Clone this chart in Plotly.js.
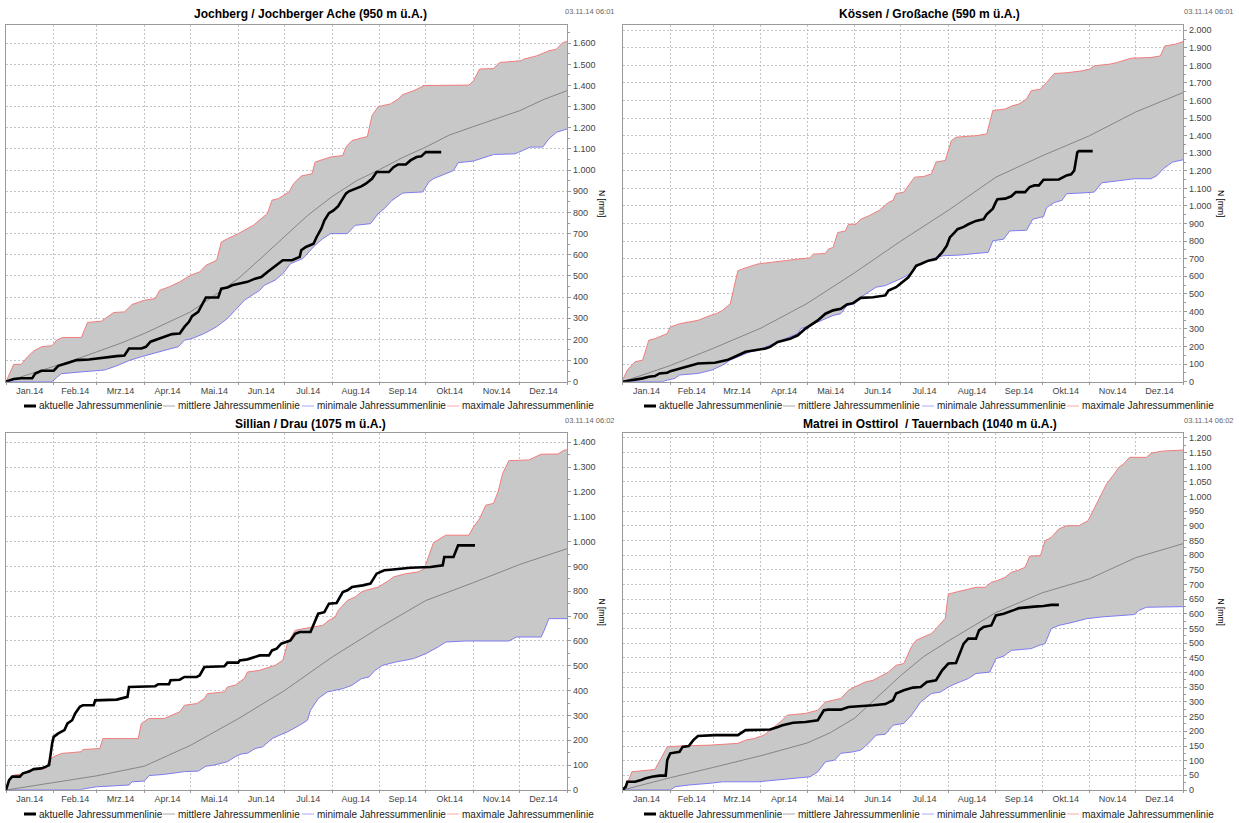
<!DOCTYPE html>
<html>
<head>
<meta charset="utf-8">
<script src="https://cdn.plot.ly/plotly-3.0.1.min.js"></script>
<style>html,body{margin:0;padding:0;background:#fff;}#chart{width:1239px;height:823px;}</style>
</head>
<body>
<div id="chart"></div>
<script>
// ---------------- DATA ----------------
// Points are [day of year 2014 (0 = 1 Jan), cumulative precipitation mm]
const titles = ["Jochberg / Jochberger Ache (950 m ü.A.)", "Kössen / Großache (590 m ü.A.)",
                "Sillian / Drau (1075 m ü.A.)", "Matrei in Osttirol  / Tauernbach (1040 m ü.A.)"];
const stamps = ["03.11.14 06:01", "03.11.14 06:01", "03.11.14 06:02", "03.11.14 06:02"];
const monthLabels = ["Jan.14","Feb.14","Mrz.14","Apr.14","Mai.14","Jun.14","Jul.14","Aug.14","Sep.14","Okt.14","Nov.14","Dez.14"];
const monthStartDays = [0,31,59,90,120,151,181,212,243,273,304,334,365];
const legendNames = ["aktuelle Jahressummenlinie","mittlere Jahressummenlinie","minimale Jahressummenlinie","maximale Jahressummenlinie"];
const yAxisLabel = "N [mm]";
const yTickSteps = [100, 100, 100, 50];

const jochbergCurrent = [[0,0],[3,8],[5,13],[10,16],[17,16],[19,39],[23,52],[31,52],[34,75],[39,86],[43,97],[46,102],[54,105],[64,115],[72,121],[77,124],[80,157],[88,157],[91,165],[94,189],[98,200],[103,215],[108,225],[113,228],[116,259],[119,283],[121,310],[125,330],[128,369],[130,398],[138,398],[140,440],[144,445],[147,456],[152,464],[157,472],[162,487],[166,495],[170,519],[174,542],[177,561],[180,574],[186,574],[191,590],[192,621],[195,637],[200,652],[202,684],[205,723],[207,762],[210,797],[213,810],[216,830],[218,855],[221,889],[223,900],[227,912],[231,923],[234,936],[238,959],[241,991],[249,991],[252,1014],[255,1027],[260,1027],[263,1046],[267,1062],[270,1065],[273,1085],[283,1085]];
const jochbergMean = [[0,0],[15,35],[31,71],[45,105],[59,141],[75,183],[90,228],[105,278],[120,330],[135,405],[151,487],[166,585],[181,685],[196,785],[212,875],[228,950],[243,1003],[258,1060],[273,1109],[288,1165],[304,1206],[319,1245],[334,1281],[350,1335],[365,1376]];
const jochbergMin = [[0,0],[30,0],[33,20],[36,38],[50,47],[64,55],[72,75],[80,100],[88,118],[97,134],[104,150],[112,165],[116,196],[121,204],[129,228],[137,260],[144,299],[149,338],[155,385],[160,409],[165,432],[168,456],[175,480],[180,511],[185,558],[193,582],[196,605],[201,645],[206,676],[211,700],[222,700],[227,739],[237,747],[242,794],[246,818],[251,857],[258,892],[271,897],[275,944],[278,960],[286,983],[291,998],[294,1035],[304,1043],[317,1074],[331,1077],[341,1109],[349,1109],[353,1148],[358,1179],[365,1195]];
const jochbergMax = [[0,0],[5,82],[10,82],[14,118],[18,145],[23,165],[30,170],[33,197],[37,209],[49,209],[53,280],[62,286],[70,327],[77,330],[82,365],[90,385],[97,393],[100,432],[106,448],[113,472],[120,503],[126,519],[130,550],[137,574],[140,660],[144,676],[151,700],[161,740],[170,795],[173,858],[177,865],[184,897],[187,936],[192,972],[199,983],[201,1038],[211,1062],[219,1069],[221,1109],[225,1140],[235,1159],[238,1258],[242,1300],[250,1313],[255,1336],[258,1357],[265,1375],[272,1400],[301,1402],[304,1422],[308,1478],[317,1480],[321,1509],[335,1517],[337,1525],[345,1540],[353,1564],[358,1572],[362,1603],[365,1608]];

const kossenCurrent = [[0,0],[3,4],[8,9],[13,19],[17,28],[21,32],[24,47],[29,51],[31,60],[37,75],[44,94],[49,104],[60,108],[68,123],[73,142],[80,170],[86,179],[93,189],[96,198],[101,226],[109,245],[114,264],[119,302],[127,349],[132,387],[137,406],[142,415],[146,440],[150,447],[155,477],[163,481],[171,491],[173,519],[178,538],[182,566],[186,594],[189,632],[191,660],[194,670],[199,689],[204,698],[208,736],[211,774],[213,821],[216,849],[218,868],[222,881],[225,896],[230,915],[235,925],[237,953],[241,985],[243,1023],[244,1038],[249,1042],[253,1055],[256,1079],[262,1079],[265,1108],[268,1117],[271,1117],[274,1149],[284,1151],[289,1174],[292,1180],[294,1202],[296,1306],[297,1312],[306,1312]];
const kossenMean = [[0,0],[31,92],[59,190],[90,305],[120,445],[151,620],[181,800],[212,975],[243,1164],[273,1285],[304,1400],[334,1535],[365,1646]];
const kossenMin = [[0,0],[26,0],[29,9],[34,19],[37,38],[49,47],[58,66],[65,94],[70,123],[75,142],[83,170],[88,179],[93,198],[100,226],[106,245],[114,274],[116,302],[122,321],[127,340],[132,358],[137,377],[142,387],[146,434],[151,443],[155,481],[160,509],[165,538],[171,547],[176,566],[183,594],[189,623],[191,651],[194,670],[199,689],[204,708],[209,717],[220,721],[230,730],[238,736],[241,802],[248,811],[252,858],[263,862],[267,925],[274,940],[276,991],[281,1020],[286,1032],[289,1070],[299,1074],[307,1079],[312,1132],[317,1136],[325,1146],[333,1155],[344,1155],[348,1174],[352,1212],[358,1250],[365,1263]];
const kossenMax = [[0,10],[3,66],[8,113],[13,123],[17,236],[21,245],[29,274],[31,311],[37,330],[43,340],[49,349],[57,377],[61,387],[65,406],[70,443],[75,632],[78,642],[88,670],[98,679],[106,689],[114,698],[122,704],[124,726],[132,730],[134,755],[137,764],[140,849],[145,858],[147,896],[152,896],[155,925],[160,943],[167,975],[173,1020],[176,1032],[178,1070],[183,1079],[186,1117],[190,1164],[196,1168],[201,1183],[204,1250],[210,1259],[214,1372],[217,1391],[222,1395],[230,1400],[237,1410],[241,1543],[249,1552],[254,1571],[258,1580],[263,1609],[266,1656],[272,1665],[276,1703],[281,1754],[289,1758],[299,1769],[304,1779],[307,1798],[317,1807],[322,1817],[331,1841],[344,1845],[350,1854],[353,1911],[360,1921],[365,1936]];

const sillianCurrent = [[0,0],[2,40],[4,54],[9,54],[11,67],[15,74],[18,84],[23,87],[26,94],[28,100],[30,187],[31,214],[34,228],[38,241],[40,268],[43,281],[45,308],[48,335],[50,341],[57,341],[58,361],[72,364],[79,375],[80,415],[97,418],[99,426],[106,426],[107,442],[113,444],[116,455],[124,455],[126,462],[129,495],[142,498],[144,513],[151,513],[152,522],[157,526],[165,542],[171,542],[173,562],[176,569],[179,589],[182,596],[185,602],[188,629],[191,636],[198,636],[201,685],[203,710],[207,716],[210,750],[215,753],[219,797],[222,804],[225,817],[232,824],[237,831],[241,871],[246,885],[250,887],[255,891],[263,895],[276,898],[281,901],[284,905],[285,938],[291,938],[294,985],[305,985]];
const sillianMean = [[0,0],[31,30],[59,57],[90,96],[120,180],[151,287],[181,400],[212,535],[243,655],[273,763],[304,835],[334,908],[365,972]];
const sillianMin = [[0,0],[49,0],[50,4],[59,13],[80,20],[82,33],[90,36],[93,58],[103,63],[108,67],[116,74],[125,76],[130,96],[135,100],[144,114],[149,134],[153,145],[157,148],[162,167],[167,174],[173,207],[178,221],[183,234],[191,261],[196,281],[198,321],[203,368],[209,395],[216,402],[219,408],[225,422],[231,448],[236,455],[240,482],[245,502],[253,515],[265,529],[273,549],[281,576],[286,596],[299,600],[327,600],[332,616],[348,616],[350,643],[353,690],[365,690]];
const sillianMax = [[0,0],[2,40],[5,60],[10,64],[15,80],[26,87],[28,120],[31,134],[36,147],[49,154],[50,163],[61,167],[63,207],[86,207],[88,268],[93,288],[103,288],[108,301],[113,315],[116,341],[124,348],[129,368],[131,388],[142,395],[144,415],[149,422],[155,449],[157,475],[165,482],[175,502],[180,522],[183,589],[188,643],[193,649],[201,656],[206,663],[210,683],[214,696],[216,723],[219,743],[222,763],[227,777],[231,797],[234,804],[242,817],[249,844],[252,858],[260,871],[268,878],[272,891],[276,958],[278,996],[286,1026],[301,1026],[304,1059],[308,1093],[312,1147],[317,1154],[320,1201],[323,1275],[327,1326],[340,1329],[348,1352],[359,1353],[363,1369],[365,1369]];

const matreiCurrent = [[0,0],[2,11],[3,28],[8,28],[12,34],[15,40],[19,45],[24,49],[28,49],[29,102],[31,125],[37,130],[39,147],[43,150],[46,170],[49,184],[60,187],[75,187],[80,204],[96,206],[101,215],[104,221],[111,229],[119,232],[127,238],[131,272],[134,274],[142,274],[147,283],[158,286],[163,289],[171,293],[176,306],[178,329],[183,340],[189,349],[194,351],[198,368],[204,374],[208,408],[212,431],[217,433],[222,499],[225,516],[230,516],[232,544],[235,556],[240,561],[243,595],[248,601],[253,612],[255,614],[258,620],[263,623],[268,625],[274,627],[279,631],[284,631]];
const matreiMean = [[0,0],[31,42],[59,77],[90,117],[120,160],[135,195],[151,245],[166,317],[181,390],[196,455],[212,508],[243,605],[273,672],[304,720],[334,792],[365,840]];
const matreiMin = [[0,0],[31,0],[34,11],[43,17],[57,23],[65,28],[88,28],[101,34],[116,40],[122,45],[127,62],[132,96],[138,102],[142,125],[150,130],[155,136],[160,159],[165,187],[171,190],[176,221],[183,227],[188,255],[194,300],[201,329],[207,334],[212,351],[217,363],[225,380],[230,397],[239,402],[243,448],[248,456],[253,476],[266,482],[271,493],[275,499],[279,550],[284,561],[294,573],[302,584],[312,590],[333,598],[336,612],[341,623],[365,625]];
const matreiMax = [[0,5],[3,23],[6,62],[13,66],[21,70],[29,147],[37,150],[57,153],[75,159],[80,170],[86,176],[92,187],[96,204],[104,238],[107,255],[119,261],[127,272],[132,300],[142,312],[147,340],[151,351],[158,368],[163,374],[173,402],[178,425],[183,431],[188,488],[191,510],[196,522],[201,533],[204,550],[206,561],[210,585],[212,668],[217,674],[222,680],[230,691],[236,691],[240,708],[244,714],[249,725],[253,742],[257,748],[262,759],[265,797],[272,799],[275,850],[279,861],[284,890],[289,901],[297,901],[303,918],[307,958],[311,1000],[315,1043],[320,1077],[323,1100],[326,1111],[330,1134],[341,1134],[344,1148],[351,1155],[365,1159]];

// ---------------- BUILD ----------------
const W = 1239, H = 823;
const FONT = "Liberation Sans, Arial, sans-serif";
function toDate(d) {
  const ms = Date.UTC(2014, 0, 1) + d * 86400000;
  return new Date(ms).toISOString().slice(0, 16).replace('T', ' ');
}
const px = x => x / W;
const py = y => 1 - y / H;

const series = [
  {cur: jochbergCurrent, mean: jochbergMean, min: jochbergMin, max: jochbergMax},
  {cur: kossenCurrent, mean: kossenMean, min: kossenMin, max: kossenMax},
  {cur: sillianCurrent, mean: sillianMean, min: sillianMin, max: sillianMax},
  {cur: matreiCurrent, mean: matreiMean, min: matreiMin, max: matreiMax}
];

// geometry (pixels)
const colPlot = [[6, 567.3], [622.7, 1183.3]];
const colPanelLeft = [0, 620];
const colRight = [617, 1236];
const colYLabelX = [602, 1221];
const rowPlot = [[24.5, 381.7], [433, 790]];
const rowTitleY = [14, 423.5];
const rowStampY = [11.5, 420];
const rowLegendY = [406, 814];

const lineColors = {cur: '#000000', mean: '#858585', min: '#7c7cf2', max: '#f27c7c'};
const legendColors = ['#000000', '#a8a8a8', '#a8a8f8', '#f8a8a8'];
const legendLineOffsets = [[24, 36], [163, 175], [302, 314], [447, 459]];
const GRID = '#c4c4c4';
const GRIDDASH = '2px,2px';

const monthMid = [];
for (let i = 0; i < 12; i++) monthMid.push(toDate((monthStartDays[i] + monthStartDays[i + 1]) / 2));
const monthStarts = monthStartDays.map(toDate);

const traces = [];
const layout = {
  width: W, height: H, margin: {l: 0, r: 0, t: 0, b: 0},
  paper_bgcolor: '#ffffff', plot_bgcolor: '#ffffff',
  separators: ',.', showlegend: false,
  font: {family: FONT, size: 9, color: '#444'},
  annotations: [], shapes: []
};

series.forEach((s, i) => {
  const col = i % 2, row = Math.floor(i / 2);
  const xa = i === 0 ? 'x' : 'x' + (i + 1);
  const ya = i === 0 ? 'y' : 'y' + (i + 1);
  const xs = arr => arr.map(p => toDate(p[0]));
  const ys = arr => arr.map(p => p[1]);

  traces.push({type: 'scatter', mode: 'lines', x: xs(s.min), y: ys(s.min), xaxis: xa, yaxis: ya,
    name: legendNames[2], line: {color: lineColors.min, width: 1}, hoverinfo: 'skip'});
  traces.push({type: 'scatter', mode: 'lines', x: xs(s.max), y: ys(s.max), xaxis: xa, yaxis: ya,
    name: legendNames[3], line: {color: lineColors.max, width: 1}, fill: 'tonexty', fillcolor: '#c8c8c8', hoverinfo: 'skip'});
  traces.push({type: 'scatter', mode: 'lines', x: xs(s.mean), y: ys(s.mean), xaxis: xa, yaxis: ya,
    name: legendNames[1], line: {color: lineColors.mean, width: 1}, hoverinfo: 'skip'});
  traces.push({type: 'scatter', mode: 'lines', x: xs(s.cur), y: ys(s.cur), xaxis: xa, yaxis: ya,
    name: legendNames[0], line: {color: lineColors.cur, width: 2.6}, hoverinfo: 'skip'});

  const yMax = Math.max(...s.max.map(p => p[1])) * 1.05;
  const xKey = i === 0 ? 'xaxis' : 'xaxis' + (i + 1);
  const yKey = i === 0 ? 'yaxis' : 'yaxis' + (i + 1);
  layout[xKey] = {
    domain: [px(colPlot[col][0]), px(colPlot[col][1])], anchor: ya, type: 'date',
    range: [toDate(0), toDate(365)], tickmode: 'array', tickvals: monthMid, ticktext: monthLabels,
    ticks: '', showgrid: false, zeroline: false, showline: true, mirror: true, linecolor: '#9a9a9a', linewidth: 1,
    tickfont: {family: FONT, size: 9, color: '#444'},
    minor: {tickmode: 'array', tickvals: monthStarts, showgrid: true, gridcolor: GRID, griddash: GRIDDASH, gridwidth: 1,
            ticks: 'outside', ticklen: 2, tickcolor: '#9a9a9a'},
    fixedrange: true
  };
  layout[yKey] = {
    domain: [py(rowPlot[row][1]), py(rowPlot[row][0])], anchor: xa, side: 'right',
    range: [0, yMax], tickmode: 'linear', tick0: 0, dtick: yTickSteps[i], tickformat: ',d',
    ticks: 'outside', ticklen: 3, tickcolor: '#9a9a9a',
    showgrid: true, gridcolor: GRID, griddash: GRIDDASH, gridwidth: 1,
    zeroline: false, showline: true, mirror: true, linecolor: '#9a9a9a', linewidth: 1,
    tickfont: {family: FONT, size: 9, color: '#444'},
    minor: {dtick: yTickSteps[i] / 2, ticks: 'outside', ticklen: 2, tickcolor: '#9a9a9a', showgrid: false},
    fixedrange: true
  };

  // title
  layout.annotations.push({xref: 'paper', yref: 'paper', x: px(colPanelLeft[col] + 310), y: py(rowTitleY[row]),
    xanchor: 'center', yanchor: 'middle', showarrow: false, text: '<b>' + titles[i] + '</b>',
    font: {family: FONT, size: 12, color: '#000'}});
  // timestamp
  layout.annotations.push({xref: 'paper', yref: 'paper', x: px(colRight[col]), y: py(rowStampY[row]),
    xanchor: 'right', yanchor: 'middle', showarrow: false, text: stamps[i],
    font: {family: FONT, size: 7.5, color: '#666'}});
  // y axis label
  layout.annotations.push({xref: 'paper', yref: 'paper', x: px(colYLabelX[col]),
    y: py((rowPlot[row][0] + rowPlot[row][1]) / 2), xanchor: 'center', yanchor: 'middle', showarrow: false,
    textangle: 90, text: yAxisLabel, font: {family: FONT, size: 8.5, color: '#000'}});
  // legend
  legendNames.forEach((name, k) => {
    const [a, b] = legendLineOffsets[k];
    const base = colPanelLeft[col];
    layout.shapes.push({type: 'line', xref: 'paper', yref: 'paper',
      x0: px(base + a), x1: px(base + b), y0: py(rowLegendY[row]), y1: py(rowLegendY[row]),
      line: {color: legendColors[k], width: k === 0 ? 3 : 1}});
    layout.annotations.push({xref: 'paper', yref: 'paper', x: px(base + b + 1), y: py(rowLegendY[row]),
      xanchor: 'left', yanchor: 'middle', showarrow: false, text: name,
      font: {family: FONT, size: 10, color: '#222'}});
  });
});

Plotly.newPlot('chart', traces, layout, {displayModeBar: false, staticPlot: true});
</script>
</body>
</html>
